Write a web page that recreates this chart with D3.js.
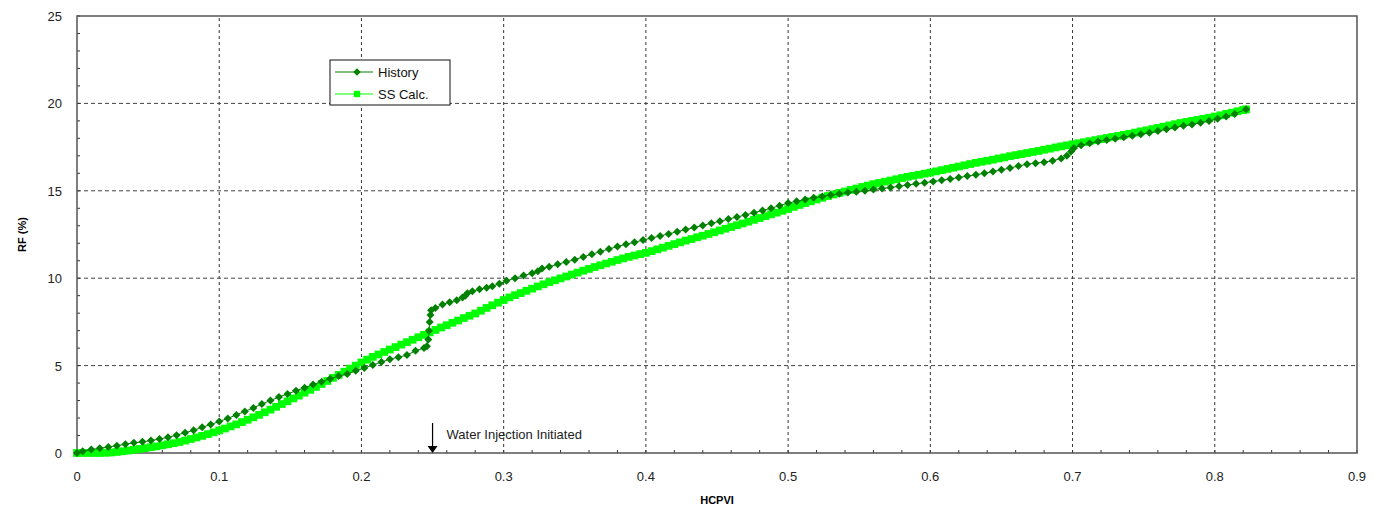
<!DOCTYPE html>
<html>
<head>
<meta charset="utf-8">
<script src="https://cdn.jsdelivr.net/npm/d3@7"></script>
<style>
  body { margin: 0; background: #fff; }
  svg { font-family: "Liberation Sans", Arial, sans-serif; }
</style>
</head>
<body>
<svg id="chart"></svg>
<script>
// History (HCPVI, RF %)
var historyX = [0.000,0.004,0.010,0.016,0.022,0.028,0.034,0.040,0.046,0.052,0.058,0.064,0.070,0.076,0.082,0.088,0.094,0.100,0.106,0.112,0.118,0.124,
  0.130,0.136,0.142,0.148,0.154,0.160,0.166,0.172,0.178,0.184,0.190,0.196,0.202,0.208,0.214,0.220,0.226,0.232,0.238,0.244,0.246,
  0.247,0.2475,0.248,0.2485,0.249,0.252,0.257,0.262,0.267,0.271,0.273,0.2745,0.278,0.283,0.288,0.292,0.297,0.302,0.308,0.314,0.320,0.324,0.327,
  0.332,0.338,0.344,0.350,0.356,0.362,0.368,0.374,0.380,0.386,0.392,0.398,0.404,0.410,0.416,0.422,0.428,0.434,0.440,0.446,0.452,0.458,0.464,
  0.470,0.476,0.482,0.488,0.494,0.500,0.506,0.512,0.518,0.524,0.530,0.536,0.542,0.548,0.554,0.560,0.566,0.572,0.578,0.584,0.590,0.596,0.602,
  0.608,0.614,0.620,0.626,0.632,0.638,0.644,0.650,0.656,0.662,0.668,0.674,0.680,0.686,0.692,0.696,0.699,0.701,0.706,0.712,0.718,0.724,0.730,
  0.736,0.742,0.748,0.754,0.760,0.766,0.772,0.778,0.784,0.790,0.796,0.802,0.808,0.814,0.822];
var historyY = [0.00,0.10,0.20,0.27,0.34,0.42,0.50,0.58,0.64,0.71,0.80,0.90,1.02,1.16,1.30,1.47,1.63,1.80,1.98,2.18,2.38,2.58,
  2.80,3.00,3.20,3.38,3.56,3.74,3.92,4.08,4.25,4.40,4.52,4.70,4.86,5.03,5.20,5.37,5.48,5.60,5.85,6.00,6.10,
  6.50,7.00,7.50,7.90,8.17,8.30,8.50,8.62,8.74,8.90,9.00,9.14,9.25,9.37,9.46,9.54,9.68,9.85,10.00,10.15,10.28,10.40,10.55,
  10.65,10.80,10.93,11.06,11.22,11.37,11.52,11.67,11.81,11.94,12.06,12.18,12.30,12.42,12.53,12.66,12.78,12.90,13.02,13.14,13.26,13.38,13.50,
  13.62,13.74,13.88,14.00,14.15,14.30,14.40,14.50,14.60,14.68,14.76,14.83,14.90,14.95,15.00,15.07,15.13,15.19,15.26,15.33,15.40,15.46,15.53,
  15.60,15.68,15.76,15.84,15.92,16.00,16.10,16.20,16.30,16.42,16.52,16.58,16.64,16.72,16.85,17.00,17.25,17.45,17.60,17.72,17.82,17.90,17.98,
  18.07,18.15,18.24,18.32,18.42,18.52,18.62,18.72,18.80,18.90,19.00,19.12,19.25,19.40,19.66];

// SS Calc. (HCPVI, RF %)
var ssX = [0.000,0.004,0.008,0.012,0.016,0.020,0.024,0.028,0.032,0.036,0.040,0.044,0.048,0.052,0.056,0.060,0.064,0.068,0.072,0.076,
  0.080,0.084,0.088,0.092,0.096,0.100,0.104,0.108,0.112,0.116,0.120,0.124,0.128,0.132,0.136,0.140,0.144,0.148,0.152,0.156,
  0.160,0.164,0.168,0.172,0.176,0.180,0.184,0.188,0.192,0.196,0.200,0.204,0.208,0.212,0.216,0.220,0.224,0.228,0.232,0.236,
  0.240,0.244,0.248,0.252,0.256,0.260,0.264,0.268,0.272,0.276,0.280,0.284,0.288,0.292,0.296,0.300,0.304,0.308,0.312,0.316,
  0.320,0.324,0.328,0.332,0.336,0.340,0.344,0.348,0.352,0.356,0.360,0.364,0.368,0.372,0.376,0.380,0.384,0.388,0.392,0.396,
  0.400,0.404,0.408,0.412,0.416,0.420,0.424,0.428,0.432,0.436,0.440,0.444,0.448,0.452,0.456,0.460,0.464,0.468,0.472,0.476,
  0.480,0.484,0.488,0.492,0.496,0.500,0.504,0.508,0.512,0.516,0.520,0.524,0.528,0.532,0.536,0.540,0.544,0.548,0.552,0.556,
  0.560,0.564,0.568,0.572,0.576,0.580,0.584,0.588,0.592,0.596,0.600,0.604,0.608,0.612,0.616,0.620,0.624,0.628,0.632,0.636,
  0.640,0.644,0.648,0.652,0.656,0.660,0.664,0.668,0.672,0.676,0.680,0.684,0.688,0.692,0.696,0.700,0.704,0.708,0.712,0.716,
  0.720,0.724,0.728,0.732,0.736,0.740,0.744,0.748,0.752,0.756,0.760,0.764,0.768,0.772,0.776,0.780,0.784,0.788,0.792,0.796,
  0.800,0.804,0.808,0.812,0.816,0.820,0.822];
var ssY = [0.00,0.00,0.00,0.00,0.00,0.01,0.03,0.06,0.10,0.14,0.18,0.23,0.28,0.33,0.38,0.44,0.50,0.56,0.63,0.71,
  0.80,0.89,0.98,1.08,1.18,1.29,1.40,1.52,1.64,1.77,1.90,2.04,2.18,2.33,2.48,2.64,2.80,2.96,3.12,3.28,
  3.45,3.61,3.78,3.95,4.12,4.30,4.47,4.65,4.83,5.00,5.18,5.34,5.50,5.64,5.78,5.92,6.06,6.20,6.34,6.48,
  6.62,6.76,6.90,7.04,7.18,7.31,7.45,7.58,7.72,7.85,7.98,8.14,8.30,8.45,8.60,8.75,8.90,9.03,9.15,9.28,
  9.40,9.53,9.65,9.77,9.88,9.99,10.10,10.21,10.32,10.43,10.53,10.64,10.74,10.84,10.94,11.04,11.13,11.22,11.30,11.38,
  11.45,11.55,11.65,11.75,11.85,11.95,12.05,12.15,12.24,12.34,12.43,12.53,12.63,12.73,12.83,12.93,13.03,13.13,13.23,13.34,
  13.44,13.55,13.65,13.75,13.86,13.96,14.08,14.19,14.30,14.40,14.50,14.60,14.70,14.79,14.88,14.96,15.05,15.13,15.22,15.30,
  15.38,15.45,15.52,15.59,15.66,15.73,15.80,15.86,15.92,15.98,16.04,16.11,16.18,16.25,16.32,16.39,16.46,16.53,16.60,16.66,
  16.72,16.78,16.85,16.91,16.98,17.04,17.10,17.16,17.22,17.28,17.35,17.41,17.48,17.54,17.60,17.66,17.72,17.78,17.84,17.90,
  17.96,18.02,18.08,18.14,18.20,18.26,18.33,18.40,18.46,18.53,18.60,18.67,18.74,18.81,18.88,18.94,19.00,19.06,19.12,19.18,
  19.25,19.32,19.40,19.47,19.55,19.62,19.66];

var xTicks = [0,0.1,0.2,0.3,0.4,0.5,0.6,0.7,0.8,0.9];
var yTicks = [0,5,10,15,20,25];
var seriesNames = ["History","SS Calc."];
var annotationText = "Water Injection Initiated";
var annotationX = 0.25;

function create_chart(){
    var width = 1373, height = 510;
    var margin = {left: 77, right: 16, top: 16, bottom: 57};

    var svg = d3.select("svg#chart")
      .attr("width", width)
      .attr("height", height);

    var x = d3.scaleLinear().domain([0, 0.9]).range([margin.left, width - margin.right]);
    var y = d3.scaleLinear().domain([0, 25]).range([height - margin.bottom, margin.top]);

    var grid = svg.append("g").attr("class", "grid");

    // dashed grid at major ticks
    grid.selectAll("line.vx")
      .data(xTicks.slice(1, -1))
      .enter().append("line")
        .attr("x1", d => x(d)).attr("x2", d => x(d))
        .attr("y1", y(0)).attr("y2", y(25))
        .attr("stroke", "#333").attr("stroke-dasharray", "3,3");
    grid.selectAll("line.hy")
      .data(yTicks.slice(1, -1))
      .enter().append("line")
        .attr("y1", d => y(d)).attr("y2", d => y(d))
        .attr("x1", x(0)).attr("x2", x(0.9))
        .attr("stroke", "#444").attr("stroke-dasharray", "4,3");

    // minor ticks, pointing inward
    var xMinor = d3.range(0, 0.9001, 0.02);
    var yMinor = d3.range(0, 25.001, 1);
    svg.append("g").selectAll("line")
      .data(xMinor)
      .enter().append("line")
        .attr("x1", d => x(d)).attr("x2", d => x(d))
        .attr("y1", y(0)).attr("y2", y(0) - 3)
        .attr("stroke", "#333");
    svg.append("g").selectAll("line")
      .data(yMinor)
      .enter().append("line")
        .attr("y1", d => y(d)).attr("y2", d => y(d))
        .attr("x1", x(0)).attr("x2", x(0) + 3)
        .attr("stroke", "#333");

    // frame
    svg.append("rect")
      .attr("x", x(0)).attr("y", y(25))
      .attr("width", x(0.9) - x(0)).attr("height", y(0) - y(25))
      .attr("fill", "none").attr("stroke", "#555").attr("stroke-width", 1.5);

    // tick labels
    svg.append("g").selectAll("text")
      .data(xTicks)
      .enter().append("text")
        .attr("x", d => x(d)).attr("y", y(0) + 28)
        .attr("text-anchor", "middle")
        .attr("font-size", 13).attr("fill", "#222")
        .text(d => d);
    svg.append("g").selectAll("text")
      .data(yTicks)
      .enter().append("text")
        .attr("x", x(0) - 15).attr("y", d => y(d) + 5)
        .attr("text-anchor", "end")
        .attr("font-size", 13).attr("fill", "#222")
        .text(d => d);

    // axis titles
    svg.append("text")
      .attr("x", (x(0) + x(0.9)) / 2).attr("y", 504)
      .attr("text-anchor", "middle")
      .attr("font-size", 11).attr("font-weight", "bold")
      .text("HCPVI");
    svg.append("text")
      .attr("transform", "translate(26," + ((y(0) + y(25)) / 2) + ") rotate(-90)")
      .attr("text-anchor", "middle")
      .attr("font-size", 11).attr("font-weight", "bold")
      .text("RF (%)");

    var line = d3.line().x(d => x(d[0])).y(d => y(d[1]));
    var historyData = historyX.map((v, i) => [v, historyY[i]]);
    var ssData = ssX.map((v, i) => [v, ssY[i]]);

    var diamond = d3.symbol().type(d3.symbolSquare).size(32);
    var square = d3.symbol().type(d3.symbolSquare).size(60);

    // SS Calc. series
    svg.append("path")
      .datum(ssData)
      .attr("d", line)
      .attr("fill", "none").attr("stroke", "#00ff00").attr("stroke-width", 1);
    svg.append("g").selectAll("path")
      .data(ssData)
      .enter().append("path")
        .attr("d", square)
        .attr("transform", d => "translate(" + x(d[0]) + "," + y(d[1]) + ")")
        .attr("fill", "#00ff00");

    // History series
    svg.append("path")
      .datum(historyData)
      .attr("d", line)
      .attr("fill", "none").attr("stroke", "#008000").attr("stroke-width", 1);
    svg.append("g").selectAll("path")
      .data(historyData)
      .enter().append("path")
        .attr("d", diamond)
        .attr("transform", d => "translate(" + x(d[0]) + "," + y(d[1]) + ") rotate(45)")
        .attr("fill", "#008000");

    // legend
    var lg = svg.append("g").attr("transform", "translate(330,60)");
    lg.append("rect")
      .attr("width", 120).attr("height", 45)
      .attr("fill", "#fff").attr("stroke", "#111");
    var colors = ["#008000", "#00ff00"];
    var legendSym = [d3.symbol().type(d3.symbolSquare).size(28), d3.symbol().type(d3.symbolSquare).size(40)];
    seriesNames.forEach(function(name, i){
        var yy = 12 + i * 22;
        lg.append("line")
          .attr("x1", 5).attr("x2", 43).attr("y1", yy).attr("y2", yy)
          .attr("stroke", colors[i]).attr("stroke-width", 1.2);
        lg.append("path")
          .attr("d", legendSym[i])
          .attr("transform", "translate(27," + yy + ")" + (i === 0 ? " rotate(45)" : ""))
          .attr("fill", colors[i]);
        lg.append("text")
          .attr("x", 48).attr("y", yy + 5)
          .attr("font-size", 13).attr("fill", "#111")
          .text(name);
    });

    // annotation arrow
    var ax = x(annotationX);
    svg.append("line")
      .attr("x1", ax).attr("x2", ax)
      .attr("y1", y(0) - 30).attr("y2", y(0) - 6)
      .attr("stroke", "#000").attr("stroke-width", 1.2);
    svg.append("path")
      .attr("d", "M" + (ax - 5) + "," + (y(0) - 7) + "L" + (ax + 5) + "," + (y(0) - 7) + "L" + ax + "," + y(0) + "Z")
      .attr("fill", "#000");
    svg.append("text")
      .attr("x", ax + 14).attr("y", y(0) - 14)
      .attr("font-size", 13).attr("fill", "#222")
      .text(annotationText);

    return svg;
}

create_chart();
</script>
</body>
</html>
